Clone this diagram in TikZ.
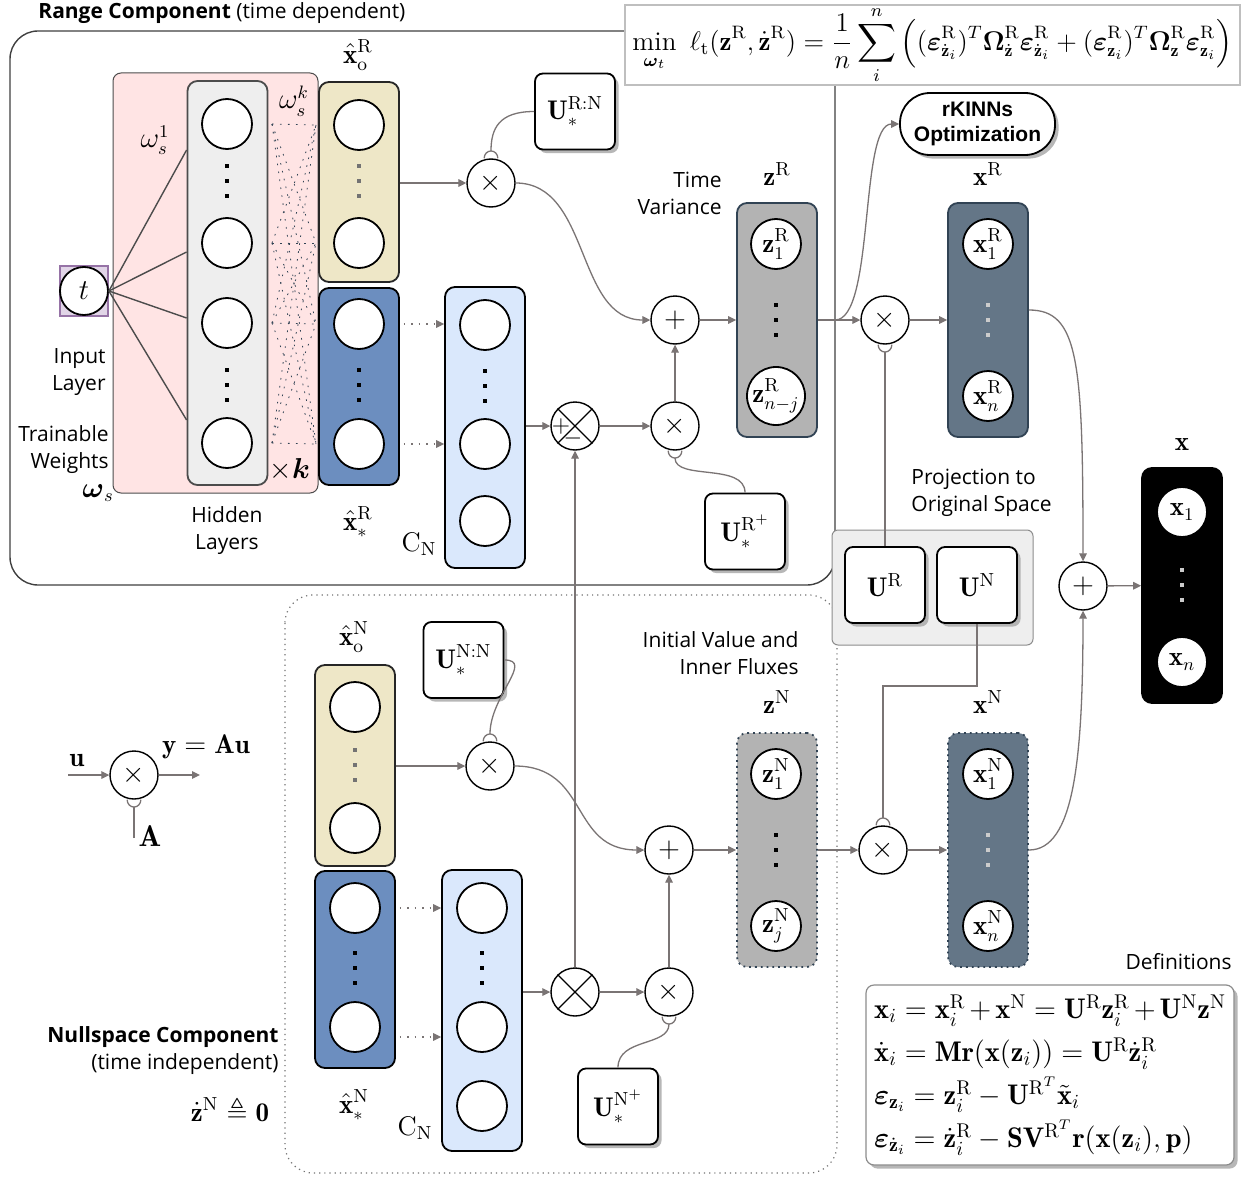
\documentclass[tikz,border=0pt]{standalone}
\usepackage{amsmath, amssymb}
\usepackage{graphicx}
\usepackage{fontspec}
\setsansfont{Open Sans}
\newfontfamily\arialfont{Liberation Sans}
\usepackage{xcolor}
\usepackage{tikz}
\usetikzlibrary{positioning, arrows.meta, shadows, calc}

\definecolor{weightpink}{RGB}{255,228,228}
\definecolor{hiddengray}{RGB}{238,238,238}
\definecolor{statesand}{RGB}{238,231,199}
\definecolor{stateblue}{RGB}{108,142,191}
\definecolor{collblue}{RGB}{218,232,252}
\definecolor{latentgray}{RGB}{179,179,179}
\definecolor{slate}{RGB}{100,118,135}
\definecolor{slateline}{RGB}{49,67,84}
\definecolor{wiregray}{RGB}{122,116,116}
\definecolor{inputlilac}{RGB}{225,213,231}
\definecolor{inputpurple}{RGB}{150,115,166}

\newcommand{\dotcol}[2]{\foreach \dy in {-15,0,15} \fill[#2] ($(#1)+(-2,\dy-2)$) rectangle ++(4,4);}

\begin{document}
\begin{tikzpicture}[x=0.5pt, y=-0.5pt, node distance=8pt,
    lbl/.style={font=\sffamily\fontsize{10.5}{13.5}\selectfont, inner sep=0pt},
    mlbl/.style={font=\fontsize{13.5}{15}\selectfont, inner sep=0pt},
    layer/.style={draw=black!85, line width=0.9pt, rounded corners=5pt, minimum width=40pt},
    neuron/.style={circle, draw=black, line width=0.9pt, fill=white, minimum size=25pt, inner sep=0pt, font=\fontsize{13.5}{15}\selectfont},
    op/.style={circle, draw=black, line width=0.7pt, fill=white, minimum size=24pt, inner sep=0pt, font=\fontsize{15}{15}\selectfont},
    mat/.style={draw=black, line width=0.9pt, fill=white, rounded corners=4pt, minimum width=40pt, minimum height=38pt, font=\fontsize{13.5}{15}\selectfont, drop shadow={shadow xshift=1.8pt, shadow yshift=-1.8pt, fill=black!35, opacity=0.8}},
    wire/.style={draw=wiregray, line width=0.65pt},
    flow/.style={wire, -{Triangle[length=4pt, width=3.8pt]}},
    dflow/.style={flow, dash pattern=on 0.7pt off 3pt},
    gain/.style={wire, -{Arc Barb[reversed, length=4pt, width=7.5pt]}}]

\useasboundingbox[fill=white] (0,0) rectangle (1247,1177);

\draw[black!75, line width=0.7pt, rounded corners=14pt] (10,31) rectangle (835,585);
\node[lbl, anchor=base west] (rangettl) at (38,19) {\textbf{Range Component} (time dependent)};
\draw[black!55, line width=0.6pt, dotted, rounded corners=14pt] (285,595) rectangle (837,1173);

\node[layer, fill=weightpink, draw=black!70, line width=0.5pt, minimum width=102.5pt, minimum height=210pt, rounded corners=4pt] (wbox) at (215.5,283) {};
\node[layer, fill=hiddengray, draw=black!70, minimum height=202pt] (hbox) at (227.5,283) {};
\foreach \ya in {124,243,323,443}
  \foreach \yb in {125,243,324,444}
    \draw[slateline, dash pattern=on 0.8pt off 3.2pt] (272,\ya) -- (316,\yb);
\node[draw=inputpurple, fill=inputlilac, line width=0.6pt, minimum width=24pt, minimum height=25pt, inner sep=0pt] (tsq) at (84,291) {};
\node[neuron, minimum size=24pt, font=\fontsize{14.5}{15}\selectfont] (t) at (84,291) {$t$};
\foreach \y in {150,252,318,420}
  \draw[black!70, line width=0.7pt] (t.east) -- (hbox.west |- 0,\y);
\foreach \y [count=\i] in {124,243,323,443}
  \node[neuron] (h\i) at (227,\y) {};
\dotcol{227,181}{black}
\dotcol{227,385}{black}
\node[mlbl] (w1) at (155,140) {$\omega_s^1$};
\node[mlbl] (wk) at (294,101) {$\omega_s^k$};
\node[mlbl] (ws) at (98,493) {$\boldsymbol{\omega}_s$};
\node[mlbl] (xk) at (290,470) {$\times\boldsymbol{k}$};
\node[lbl, align=right, anchor=east] (inlbl) at (106,372) {Input\\Layer};
\node[lbl, align=right, anchor=east] (twlbl) at (109,450) {Trainable\\Weights};
\node[lbl, align=center] (hidlbl) at (227,531) {Hidden\\Layers};

\node[layer, fill=statesand, minimum height=100pt] (xoR) at (359,182) {};
\node[layer, fill=stateblue, draw=black, minimum height=98.5pt] (xsR) at (359,386.5) {};
\node[layer, fill=collblue, draw=black, minimum height=140.5pt] (cnR) at (485,427.5) {};
\foreach \y [count=\i] in {125,243} \node[neuron] (oR\i) at (359,\y) {};
\foreach \y [count=\i] in {324,444} \node[neuron] (sR\i) at (359,\y) {};
\foreach \y [count=\i] in {325,444,521} \node[neuron] (cR\i) at (485,\y) {};
\dotcol{359,181}{black!55}
\dotcol{359,385}{black}
\dotcol{485,386}{black}
\node[mlbl] (xoRlbl) at (358,55) {$\hat{\mathbf x}^{\mathrm R}_{\mathrm o}$};
\node[mlbl] (xsRlbl) at (358,522) {$\hat{\mathbf x}^{\mathrm R}_*$};
\node[mlbl] (cnRlbl) at (419,544) {$\mathrm C_{\mathrm N}$};

\node[op] (mulR1) at (491,183) {$\times$};
\node[op] (difR) at (575,426) {};
\node[op] (mulR2) at (675,426) {$\times$};
\node[op] (addR) at (675,320) {$+$};
\node[mat] (uRN) at (575,111.5) {$\mathbf U_*^{\mathrm{R:N}}$};
\node[mat] (uRp) at (745,531.5) {$\mathbf U_*^{\mathrm{R}^{+}}$};
\node[lbl, align=right, anchor=east] (tvlbl) at (722,193) {Time\\Variance};

\node[layer, fill=latentgray, draw=slateline, minimum height=117pt] (zR) at (777,320) {};
\node[neuron] (zR1) at (776,244) {$\mathbf z_1^{\mathrm R}$};
\node[neuron] (zR2) at (776,396) {$\mathbf z_{n-j}^{\mathrm R}$};
\dotcol{776,320}{black}
\node[mlbl, above=8pt of zR] (zRlbl) {$\mathbf z^{\mathrm R}$};

\node[draw=black!25, line width=0.6pt, fill=white, minimum width=307.5pt, minimum height=38pt, inner sep=0.5pt, font=\fontsize{12}{14}\selectfont] (loss) at (932.5,45) {\resizebox{300pt}{!}{$\displaystyle \min_{\boldsymbol\omega_t}\ \ell_{\mathrm t}(\mathbf z^{\mathrm R},\dot{\mathbf z}^{\mathrm R}) = \frac{1}{n}\sum_{i}^{n}\Big((\boldsymbol\varepsilon^{\mathrm R}_{\dot{\mathbf z}_i})^T\boldsymbol\Omega^{\mathrm R}_{\dot{\mathbf z}}\boldsymbol\varepsilon^{\mathrm R}_{\dot{\mathbf z}_i} + (\boldsymbol\varepsilon^{\mathrm R}_{\mathbf z_i})^T\boldsymbol\Omega^{\mathrm R}_{\mathbf z}\boldsymbol\varepsilon^{\mathrm R}_{\mathbf z_i}\Big)$}};
\node[draw=black, line width=0.9pt, fill=white, rounded corners=15pt, minimum width=77.5pt, minimum height=31pt, align=center, inner sep=1pt, font=\arialfont\bfseries\fontsize{10.5}{12.5}\selectfont, drop shadow={shadow xshift=1.8pt, shadow yshift=-1.8pt, fill=black!35, opacity=0.8}] (rkinn) at (977.5,124) {rKINNs\\Optimization};

\node[op] (mulR3) at (885,320) {$\times$};
\node[layer, fill=slate, draw=slateline, minimum height=117pt] (xR) at (988,320) {};
\node[neuron] (xR1) at (988,244) {$\mathbf x_1^{\mathrm R}$};
\node[neuron] (xR2) at (988,396) {$\mathbf x_n^{\mathrm R}$};
\dotcol{988,320}{black!20}
\node[mlbl, above=8pt of xR] (xRlbl) {$\mathbf x^{\mathrm R}$};

\node[draw=black!45, fill=hiddengray, line width=0.5pt, rounded corners=3pt, minimum width=100.5pt, minimum height=57.5pt] (proj) at (932.5,587.5) {};
\node[mat] (uR) at (885,585) {$\mathbf U^{\mathrm R}$};
\node[mat] (uN) at (977,585) {$\mathbf U^{\mathrm N}$};
\node[lbl, align=left, anchor=west] (projlbl) at (911,493) {Projection to\\Original Space};

\node[op] (addX) at (1083,586) {$+$};
\node[layer, fill=black, draw=black, minimum height=117.5pt] (xbox) at (1182,585.5) {};
\node[neuron] (x1) at (1182,512) {$\mathbf x_1$};
\node[neuron] (x2) at (1182,662) {$\mathbf x_n$};
\dotcol{1182,585}{black!20}
\node[mlbl, above=8pt of xbox] (xlbl) {$\mathbf x$};

\node[layer, fill=statesand, minimum height=100.5pt] (xoN) at (355,765.5) {};
\node[layer, fill=stateblue, draw=black, minimum height=98.5pt] (xsN) at (355,969.5) {};
\node[layer, fill=collblue, draw=black, minimum height=140.5pt] (cnN) at (482,1010.5) {};
\foreach \y [count=\i] in {707,828} \node[neuron] (oN\i) at (355,\y) {};
\foreach \y [count=\i] in {908,1027} \node[neuron] (sN\i) at (355,\y) {};
\foreach \y [count=\i] in {908,1027,1106} \node[neuron] (cN\i) at (482,\y) {};
\dotcol{355,765}{black!55}
\dotcol{355,968}{black}
\dotcol{482,968}{black}
\node[mlbl] (xoNlbl) at (354,637) {$\hat{\mathbf x}^{\mathrm N}_{\mathrm o}$};
\node[mlbl] (xsNlbl) at (354,1105) {$\hat{\mathbf x}^{\mathrm N}_*$};
\node[mlbl] (cnNlbl) at (415,1128) {$\mathrm C_{\mathrm N}$};

\node[op] (mulN1) at (490,766) {$\times$};
\node[op] (difN) at (575,992) {};
\node[op] (mulN2) at (669,992) {$\times$};
\node[op] (addN) at (669,850) {$+$};
\node[mat] (uNN) at (463.5,660) {$\mathbf U_*^{\mathrm{N:N}}$};
\node[mat] (uNp) at (618,1106.5) {$\mathbf U_*^{\mathrm{N}^{+}}$};
\node[lbl, align=right, anchor=east] (ivlbl) at (799,653) {Initial Value and\\Inner Fluxes};

\node[layer, fill=latentgray, draw=slateline, dotted, minimum height=117pt] (zN) at (777,850) {};
\node[neuron] (zN1) at (776,774) {$\mathbf z_1^{\mathrm N}$};
\node[neuron] (zN2) at (776,926) {$\mathbf z_j^{\mathrm N}$};
\dotcol{776,850}{black}
\node[mlbl, above=9pt of zN] (zNlbl) {$\mathbf z^{\mathrm N}$};

\node[op] (mulN3) at (883,850) {$\times$};
\node[layer, fill=slate, draw=slateline, dotted, minimum height=117pt] (xN) at (988,850) {};
\node[neuron] (xN1) at (988,774) {$\mathbf x_1^{\mathrm N}$};
\node[neuron] (xN2) at (988,926) {$\mathbf x_n^{\mathrm N}$};
\dotcol{988,850}{black!20}
\node[mlbl, above=9pt of xN] (xNlbl) {$\mathbf x^{\mathrm N}$};

\foreach \o in {difR, difN}
  \draw[line width=0.6pt] (\o.45) -- (\o.225) (\o.135) -- (\o.315);
\node[font=\fontsize{12}{12}\selectfont, inner sep=0pt] (difRp) at (561,426) {$+$};
\node[font=\fontsize{12}{12}\selectfont, inner sep=0pt] (difRm) at (573,438) {$-$};

\draw[flow] (xoR.east |- mulR1) -- (mulR1);
\draw[gain] (uRN.west) .. controls +(-35,0) and +(0,-30) .. (mulR1.north);
\draw[flow] (mulR1.east) .. controls +(75,0) and +(-75,0) .. (addR.west);
\foreach \y in {324,444}
  \draw[dflow, shorten <=2pt] (xsR.east |- 0,\y) -- (cnR.west |- 0,\y);
\draw[flow] (cnR.east |- difR) -- (difR);
\draw[flow] (difR) -- (mulR2);
\draw[flow] (mulR2) -- (addR);
\draw[gain] (uRp.north) .. controls +(0,-30) and +(0,30) .. (mulR2.south);
\draw[flow] (addR) -- (zR);
\coordinate (tapR) at (835,320);
\draw[flow] (zR) -- (mulR3);
\draw[flow] (tapR) .. controls +(40,0) and +(-40,0) .. (rkinn.west);
\draw[flow] (mulR3) -- (xR);
\draw[gain] (uR.north) -- (mulR3.south);
\draw[flow] ([yshift=5pt]xR.east) .. controls +(50,0) and +(0,-200) .. (addX.north);
\draw[flow] (addX) -- (xbox);

\draw[flow] (xoN.east |- mulN1) -- (mulN1);
\draw[gain] (uNN.east) .. controls +(30,0) and +(0,-45) .. (mulN1.north);
\draw[flow] (mulN1.east) .. controls +(75,0) and +(-75,0) .. (addN.west);
\foreach \y in {908,1037}
  \draw[dflow, shorten <=2pt] (xsN.east |- 0,\y) -- (cnN.west |- 0,\y);
\draw[flow] (cnN.east |- difN) -- (difN);
\draw[flow] (difN) -- (mulN2);
\draw[flow] (mulN2) -- (addN);
\draw[gain] (uNp.north) .. controls +(0,-30) and +(0,30) .. (mulN2.south);
\draw[flow] (addN) -- (zN);
\draw[flow] (zN) -- (mulN3);
\draw[flow] (mulN3) -- (xN);
\draw[gain] (uN.south) -- ++(0,62) -| (mulN3.north);
\draw[flow] (xN.east) .. controls +(45,0) and +(0,150) .. (addX.south);
\draw[flow] (difN) -- (difR);

\node[op] (mulU) at (134,775) {$\times$};
\coordinate (uin) at (68,775);
\coordinate (yout) at (200,775);
\coordinate (Ain) at (134,838);
\draw[flow] (uin) -- (mulU);
\draw[flow] (mulU) -- (yout);
\draw[gain] (Ain) -- (mulU.south);
\node[mlbl] (ulbl) at (77,760) {$\mathbf u$};
\node[mlbl] (ylbl) at (206,747) {$\mathbf y = \mathbf A\mathbf u$};
\node[mlbl, font=\fontsize{15}{15}\selectfont] (Albl) at (150,836) {$\mathbf A$};

\node[lbl, align=right, anchor=east] (nulllbl) at (279,1051) {\textbf{Nullspace Component}\\(time independent)};
\node[mlbl] (zdotlbl) at (230,1110) {$\dot{\mathbf z}^{\mathrm N} \triangleq \mathbf 0$};

\node[lbl, anchor=base east] (deflbl) at (1232,969) {Definitions};
\node[draw=black!45, fill=white, rounded corners=4pt, line width=0.6pt, text width=176pt, inner sep=4pt, minimum height=90pt, align=left, font=\fontsize{14.2}{21.5}\selectfont, drop shadow={shadow xshift=1.8pt, shadow yshift=-1.8pt, fill=black!35, opacity=0.8}] (defs) at (1050,1075) {$\mathbf x_i = \mathbf x_i^{\mathrm R} + \mathbf x^{\mathrm N} = \mathbf U^{\mathrm R}\mathbf z_i^{\mathrm R} + \mathbf U^{\mathrm N}\mathbf z^{\mathrm N}$\\
$\dot{\mathbf x}_i = \mathbf M\mathbf r(\mathbf x(\mathbf z_i)) = \mathbf U^{\mathrm R}\dot{\mathbf z}_i^{\mathrm R}$\\
$\boldsymbol\varepsilon_{\mathbf z_i} = \mathbf z_i^{\mathrm R} - \mathbf U^{\mathrm R^T}\tilde{\mathbf x}_i$\\
$\boldsymbol\varepsilon_{\dot{\mathbf z}_i} = \dot{\mathbf z}_i^{\mathrm R} - \mathbf S\mathbf V^{\mathrm R^T}\mathbf r(\mathbf x(\mathbf z_i),\mathbf p)$};
\end{tikzpicture}
\end{document}
